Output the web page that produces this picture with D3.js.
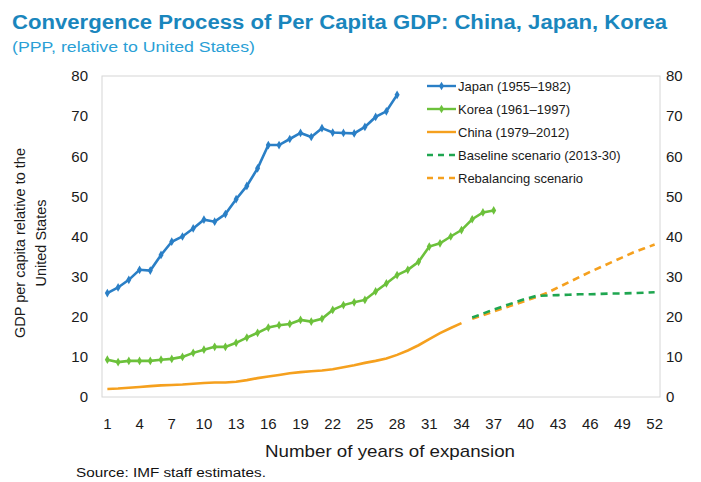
<!DOCTYPE html>
<html>
<head>
<meta charset="utf-8">
<script src="https://cdn.jsdelivr.net/npm/d3@7"></script>
<style>
	body { margin: 0; background: #fff; }
	svg { display: block; font-family: "Liberation Sans", Arial, sans-serif; }
</style>
</head>
<body>
<div id="chart"></div>
<script>
"use strict";

var years = d3.range(1, 53);
var xTicks = d3.range(1, 53, 3);
var yTicks = [0, 10, 20, 30, 40, 50, 60, 70, 80];

// Japan 1955-1982, years 1..28
var japan = [25.9, 27.3, 29.2, 31.7, 31.5, 35.4, 38.7, 40.0, 42.0, 44.2, 43.7, 45.6, 49.3, 52.6,
	57.0, 62.8, 62.8, 64.3, 65.8, 64.8, 67.0, 65.9, 65.8, 65.7, 67.3, 69.8, 71.2, 75.3];
// Korea 1961-1997, years 1..37
var korea = [9.3, 8.7, 9.0, 9.0, 9.0, 9.3, 9.5, 10.0, 11.0, 11.8, 12.5, 12.5, 13.5, 14.8,
	16.0, 17.3, 17.9, 18.2, 19.2, 18.8, 19.5, 21.7, 22.9, 23.6, 24.2, 26.3, 28.3, 30.4,
	31.7, 33.7, 37.5, 38.3, 40.0, 41.6, 44.3, 46.0, 46.5];
// China 1979-2012, years 1..34
var china = [2.0, 2.1, 2.3, 2.5, 2.7, 2.9, 3.0, 3.1, 3.3, 3.5, 3.6, 3.6, 3.8, 4.2,
	4.7, 5.1, 5.5, 5.9, 6.2, 6.4, 6.6, 6.9, 7.4, 7.9, 8.5, 9.0, 9.6, 10.5, 11.6,
	12.9, 14.4, 15.9, 17.2, 18.4];
// scenarios 2013-2030, years 35..52
var baseline = [19.8, 20.8, 21.8, 22.7, 23.6, 24.5, 25.2, 25.3, 25.4, 25.5, 25.6, 25.6,
	25.7, 25.8, 25.8, 25.9, 26.0, 26.1];
var rebalancing = [19.5, 20.4, 21.3, 22.2, 23.1, 24.0, 24.9, 26.0, 27.3, 28.6, 29.9, 31.2,
	32.4, 33.6, 34.8, 36.0, 37.0, 38.0];

var series = [
	{ name: "Japan (1955\u20131982)", start: 1, values: japan, color: "#2a7fc6", dash: null, marker: true },
	{ name: "Korea (1961\u20131997)", start: 1, values: korea, color: "#6cc13b", dash: null, marker: true },
	{ name: "China (1979\u20132012)", start: 1, values: china, color: "#f5a01e", dash: null, marker: false },
	{ name: "Baseline scenario (2013-30)", start: 35, values: baseline, color: "#1fa650", dash: "7,5", marker: false },
	{ name: "Rebalancing scenario", start: 35, values: rebalancing, color: "#f5a01e", dash: "7,5", marker: false }
];

var width = 701, height = 482;
var plot = { left: 102, right: 660, top: 76, bottom: 397 };

var svg = d3.select("#chart").append("svg")
	.attr("width", width)
	.attr("height", height);

var x = d3.scaleBand().domain(years).range([plot.left, plot.right]);
var y = d3.scaleLinear().domain([0, 80]).range([plot.bottom, plot.top]);
function cx(d) { return x(d) + x.bandwidth() / 2; }

// titles
svg.append("text").attr("x", 12).attr("y", 29)
	.attr("font-size", 20).attr("font-weight", "bold").attr("fill", "#1a86bd")
	.attr("textLength", 655).attr("lengthAdjust", "spacingAndGlyphs")
	.text("Convergence Process of Per Capita GDP: China, Japan, Korea");
svg.append("text").attr("x", 12).attr("y", 52)
	.attr("font-size", 14).attr("fill", "#2a9fd6")
	.attr("textLength", 243).attr("lengthAdjust", "spacingAndGlyphs")
	.text("(PPP, relative to United States)");

// plot border
svg.append("rect")
	.attr("x", plot.left).attr("y", plot.top)
	.attr("width", plot.right - plot.left).attr("height", plot.bottom - plot.top)
	.attr("fill", "none").attr("stroke", "#d6d6d6");

// axes
var left = svg.append("g").attr("transform", "translate(" + (plot.left - 14) + ",0)")
	.call(d3.axisLeft(y).tickValues(yTicks).tickSize(0).tickPadding(0));
var right = svg.append("g").attr("transform", "translate(" + (plot.right + 6) + ",0)")
	.call(d3.axisRight(y).tickValues(yTicks).tickSize(0).tickPadding(0));
var bottom = svg.append("g").attr("transform", "translate(0," + (plot.bottom + 21) + ")")
	.call(d3.axisBottom(x).tickValues(xTicks).tickSize(0).tickPadding(0));

[left, right, bottom].forEach(function(g) {
	g.select(".domain").remove();
	g.selectAll("text").attr("font-size", 15).attr("fill", "#1a1a1a")
		.attr("font-family", "Liberation Sans, Arial, sans-serif");
});

// axis titles
svg.append("text").attr("x", 390).attr("y", 457).attr("text-anchor", "middle")
	.attr("font-size", 17).attr("fill", "#1a1a1a")
	.attr("textLength", 250).attr("lengthAdjust", "spacingAndGlyphs")
	.text("Number of years of expansion");
var yt = svg.append("text").attr("transform", "translate(25,243) rotate(-90)")
	.attr("text-anchor", "middle").attr("font-size", 14.5).attr("fill", "#1a1a1a");
yt.append("tspan").attr("x", 0).attr("dy", 0).text("GDP per capita relative to the");
yt.append("tspan").attr("x", 0).attr("dy", 21).text("United States");

svg.append("text").attr("x", 76).attr("y", 477)
	.attr("font-size", 12.5).attr("fill", "#111")
	.attr("textLength", 190).attr("lengthAdjust", "spacingAndGlyphs")
	.text("Source: IMF staff estimates.");

// lines
var line = d3.line()
	.x(function(d) { return cx(d.year); })
	.y(function(d) { return y(d.value); });

series.forEach(function(s) {
	s.points = s.values.map(function(v, i) { return { year: s.start + i, value: v }; });
});

// draw rebalancing below baseline, so reverse the last two
var drawOrder = [series[2], series[4], series[3], series[1], series[0]];
drawOrder.forEach(function(s) {
	svg.append("path")
		.datum(s.points)
		.attr("fill", "none")
		.attr("stroke", s.color)
		.attr("stroke-width", 2.6)
		.attr("stroke-dasharray", s.dash)
		.attr("d", line);
	if (s.marker) {
		svg.append("g").selectAll("path")
			.data(s.points)
			.enter().append("path")
			.attr("transform", function(d) { return "translate(" + cx(d.year) + "," + y(d.value) + ")"; })
			.attr("d", d3.symbol().type(d3.symbolDiamond).size(22))
			.attr("fill", s.color);
	}
});

// legend
var legend = svg.append("g").attr("transform", "translate(427,86)");
series.forEach(function(s, i) {
	var g = legend.append("g").attr("transform", "translate(0," + (i * 23) + ")");
	g.append("line").attr("x1", 0).attr("x2", 29).attr("y1", 0).attr("y2", 0)
		.attr("stroke", s.color).attr("stroke-width", 2.4)
		.attr("stroke-dasharray", s.dash ? "6,5" : null);
	if (s.marker) {
		g.append("path").attr("transform", "translate(14.5,0)")
			.attr("d", d3.symbol().type(d3.symbolDiamond).size(22))
			.attr("fill", s.color);
	}
	g.append("text").attr("x", 31).attr("y", 4.5)
		.attr("font-size", 13).attr("fill", "#1a1a1a")
		.text(s.name);
});
</script>
</body>
</html>
